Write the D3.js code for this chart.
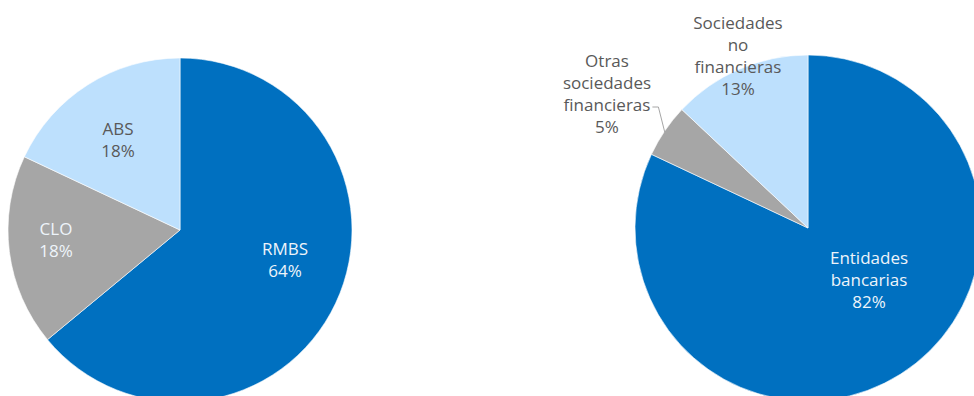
<!DOCTYPE html>
<html>
<head>
<meta charset="utf-8">
<script src="https://cdn.jsdelivr.net/npm/d3@7/dist/d3.min.js"></script>
<style>
  html, body { margin: 0; padding: 0; background: #fff; }
  svg { display: block; }
  text { font-family: "Open Sans", "Noto Sans", sans-serif; font-size: 17px; }
</style>
</head>
<body>
<svg id="chart" width="974" height="396"></svg>
<script>
// Composition of securitised assets by type
const typeCategories = ["RMBS", "CLO", "ABS"];
const typeValues = [64, 18, 18];

// Composition of holders by sector
const holderCategories = ["Entidades bancarias", "Otras sociedades financieras", "Sociedades no financieras"];
const holderValues = [82, 5, 13];

const palette = ["#0070c0", "#a6a6a6", "#bde0fd"];
const darkText = "#595959";
const lightText = "#eef4fa";

const svg = d3.select("#chart");

// Label layout per slice: offset of the label block centre from the pie centre,
// the lines it is broken into, its colour, and an optional leader line.
const typeLabels = [
  { lines: ["RMBS"], dx: 105, dy: 29, fill: lightText },
  { lines: ["CLO"], dx: -124, dy: 9, fill: lightText },
  { lines: ["ABS"], dx: -62, dy: -91, fill: darkText }
];
const holderLabels = [
  { lines: ["Entidades", "bancarias"], dx: 61, dy: 51, fill: lightText },
  { lines: ["Otras", "sociedades", "financieras"], dx: -201, dy: -135, fill: darkText, leader: true },
  { lines: ["Sociedades", "no", "financieras"], dx: -70, dy: -173, fill: darkText }
];

function drawPie(cx, cy, radius, categories, values, labels) {
  const data = categories.map((c, i) => ({ name: c, value: values[i], i }));
  const pie = d3.pie().value(d => d.value).sort(null);
  const arc = d3.arc().innerRadius(0).outerRadius(radius);
  const arcs = pie(data);

  const g = svg.append("g").attr("transform", `translate(${cx},${cy})`);

  g.selectAll("path.slice")
    .data(arcs)
    .join("path")
    .attr("class", "slice")
    .attr("d", arc)
    .attr("fill", d => palette[d.data.i])
    .attr("stroke", "#ffffff")
    .attr("stroke-width", 0.6);

  const lineH = 22;
  arcs.forEach(a => {
    const lab = labels[a.data.i];
    const allLines = lab.lines.concat([d3.format("d")(a.data.value) + "%"]);
    const n = allLines.length;
    const t = g.append("text")
      .attr("text-anchor", "middle")
      .attr("fill", lab.fill);
    allLines.forEach((ln, k) => {
      t.append("tspan")
        .attr("x", lab.dx)
        .attr("y", lab.dy + (k - (n - 1) / 2) * lineH)
        .attr("dominant-baseline", "central")
        .text(ln);
    });

    if (lab.leader) {
      // leader from the end of the label's third line to the slice's outer edge
      const mid = (a.startAngle + a.endAngle) / 2;
      const ex = Math.sin(mid) * radius;
      const ey = -Math.cos(mid) * radius;
      const node = t.node();
      const bb = node.getBBox();
      const rowY = lab.dy + (2 - (n - 1) / 2) * lineH;
      const tspans = t.selectAll("tspan").nodes();
      const w = tspans[2].getComputedTextLength();
      const sx = lab.dx + w / 2 + 2;
      g.append("polyline")
        .attr("points", `${sx},${rowY + 3} ${sx + 6},${rowY + 3} ${ex},${ey + 2}`)
        .attr("fill", "none")
        .attr("stroke", "#a6a6a6")
        .attr("stroke-width", 1);
    }
  });
}

drawPie(180, 230, 172, typeCategories, typeValues, typeLabels);
drawPie(808, 228, 173, holderCategories, holderValues, holderLabels);
</script>
</body>
</html>
